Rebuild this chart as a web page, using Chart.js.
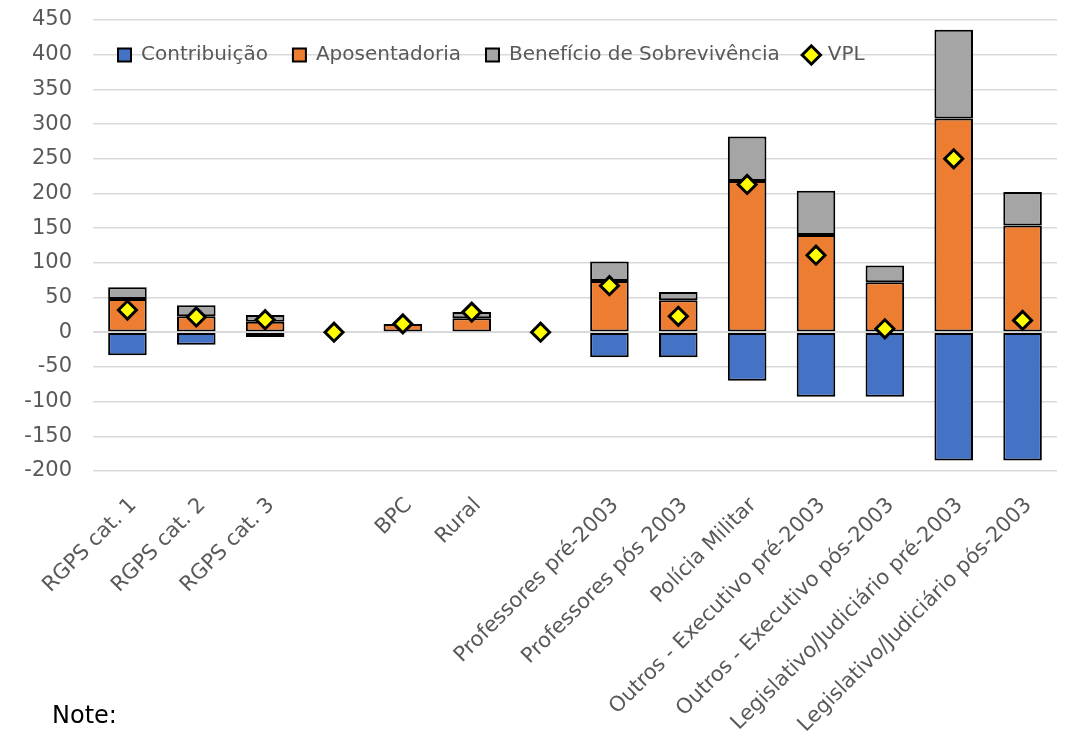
<!DOCTYPE html>
<html>
<head>
<meta charset="utf-8">
<script src="https://cdn.jsdelivr.net/npm/chart.js@4"></script>
<style>
  body { margin: 0; background: #fff; }
  #wrap { position: relative; width: 1069px; height: 740px; }
  #note { position: absolute; left: 52px; top: 703px; font-family: "DejaVu Sans"; font-size: 24px; line-height: 24px; color: #000; }
</style>
</head>
<body>
<div id="wrap">
  <canvas id="chart" width="1069" height="740"></canvas>
  <div id="note">Note:</div>
</div>
<script>
const categories = [
    "RGPS cat. 1", "RGPS cat. 2", "RGPS cat. 3", "", "BPC", "Rural", "",
    "Professores pré-2003", "Professores pós 2003", "Polícia Militar",
    "Outros - Executivo pré-2003", "Outros - Executivo pós-2003",
    "Legislativo/Judiciário pré-2003", "Legislativo/Judiciário pós-2003"
];
const contribuicao = [-33, -18, -7, null, 0, 0, null, -36, -36, -70, -93, -93, -185, -185];
const aposentadoria = [48, 23, 15, null, 12, 20, null, 74, 46, 218, 140, 72, 308, 154];
const sobrevivencia = [17, 16, 10, null, 0, 9, null, 28, 12, 64, 64, 24, 128, 48];
const vpl = [32, 22, 18, 0, 12, 29, 0, 67, 23, 213, 111, 5, 250, 17];
const yTicks = { min: -200, max: 450, step: 50 };

const textColor = "#595959";
const gridColor = "#d9d9d9";

// zero line is drawn over the bars but under the diamonds
const zeroLine = {
    id: "zeroLine",
    beforeDatasetDraw(chart, args) {
        if (args.meta.type !== "line") return;
        const { ctx, chartArea, scales } = chart;
        const y = scales.y.getPixelForValue(0);
        ctx.save();
        ctx.strokeStyle = gridColor;
        ctx.lineWidth = 1.5;
        ctx.beginPath();
        ctx.moveTo(chartArea.left, y);
        ctx.lineTo(chartArea.right, y);
        ctx.stroke();
        ctx.restore();
    },
};

// legend sits inside the plot, laid out in one row
const legendInside = {
    id: "legendInside",
    afterInit(chart) {
        chart.legend.isHorizontal = () => true;
    },
    afterLayout(chart) {
        const lg = chart.legend;
        const area = chart.chartArea;
        lg.left = area.left;
        lg.right = area.right;
        lg.top = area.top;
        lg.bottom = area.top + lg.height;
    },
};

const barStyle = {
    type: "bar",
    stack: "s",
    order: 1,
    borderColor: "#000",
    borderWidth: 2,
    borderSkipped: false,
    pointStyle: "rect",
    categoryPercentage: 1,
    barPercentage: 0.56,
};

new Chart(document.getElementById("chart"), {
    data: {
        labels: categories,
        datasets: [
            { ...barStyle, label: "Contribuição", data: contribuicao, backgroundColor: "#4472C4" },
            { ...barStyle, label: "Aposentadoria", data: aposentadoria, backgroundColor: "#ED7D31" },
            { ...barStyle, label: "Benefício de Sobrevivência", data: sobrevivencia, backgroundColor: "#A5A5A5" },
            {
                type: "line",
                label: "VPL",
                data: vpl,
                stack: "vpl",
                order: 0,
                showLine: false,
                pointStyle: "rectRot",
                pointRadius: 9,
                pointBackgroundColor: "#FFFF00",
                pointBorderColor: "#000",
                pointBorderWidth: 3,
                backgroundColor: "#FFFF00",
                borderColor: "#000",
                borderWidth: 3,
            },
        ],
    },
    options: {
        responsive: false,
        animation: false,
        layout: { padding: { top: 20, left: 24, right: 6, bottom: 0 } },
        plugins: {
            tooltip: { enabled: false },
            legend: {
                position: "chartArea",
                align: "start",
                labels: {
                    usePointStyle: true,
                    boxWidth: 13,
                    boxHeight: 13,
                    padding: 25,
                    color: textColor,
                    font: { family: "DejaVu Sans", size: 20 },
                    sort: (a, b) => a.datasetIndex - b.datasetIndex,
                },
            },
        },
        scales: {
            x: {
                stacked: true,
                grid: { display: false },
                border: { display: false },
                afterFit: (scale) => {
                    scale.height = 269;
                    scale.paddingLeft = 0;
                    scale.paddingRight = 0;
                },
                ticks: {
                    autoSkip: false,
                    minRotation: 45,
                    maxRotation: 45,
                    labelOffset: 6,
                    padding: 14,
                    color: textColor,
                    font: { family: "DejaVu Sans", size: 21 },
                },
            },
            y: {
                stacked: true,
                min: yTicks.min,
                max: yTicks.max,
                grid: { color: gridColor, lineWidth: 1.5, drawTicks: false },
                border: { display: false },
                afterFit: (scale) => {
                    scale.width = 69;
                    scale.paddingTop = 0;
                    scale.paddingBottom = 0;
                },
                ticks: {
                    stepSize: yTicks.step,
                    padding: 21,
                    color: textColor,
                    font: { family: "DejaVu Sans", size: 21 },
                },
            },
        },
    },
    plugins: [zeroLine, legendInside],
});
</script>
</body>
</html>
